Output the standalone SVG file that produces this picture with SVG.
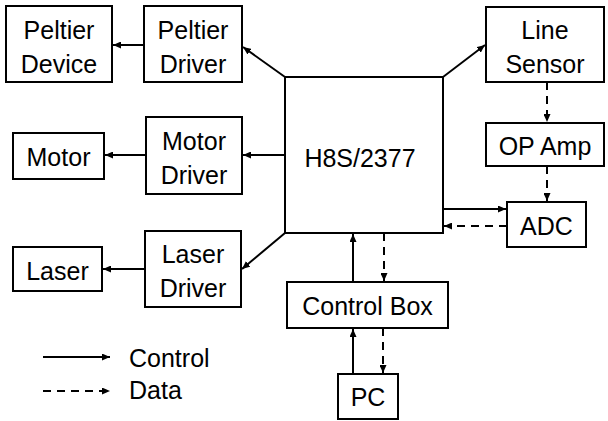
<svg xmlns="http://www.w3.org/2000/svg" width="608" height="421" viewBox="0 0 608 421">
<style>
.box{fill:#fff;stroke:#000;stroke-width:2}
text{font-family:"Liberation Sans",Arial,sans-serif;font-size:25px;fill:#000;text-anchor:middle}
.lg{text-anchor:start}
.c{fill:none;stroke:#000;stroke-width:2}
.d{stroke-dasharray:8,6}
</style>
<defs>
<marker id="ah" markerUnits="userSpaceOnUse" markerWidth="9" markerHeight="7" refX="8" refY="3.5" orient="auto">
<path d="M0,0 L8,3.5 L0,7 Z" fill="#000"/>
</marker>
</defs>
<rect width="608" height="421" fill="#fff"/>
<g id="connectors">
<line class="c" x1="144" y1="45" x2="113" y2="45" marker-end="url(#ah)"/>
<line class="c" x1="285" y1="77" x2="243" y2="47" marker-end="url(#ah)"/>
<line class="c" x1="285" y1="155" x2="243" y2="155" marker-end="url(#ah)"/>
<line class="c" x1="146" y1="155" x2="105" y2="155" marker-end="url(#ah)"/>
<line class="c" x1="285" y1="233" x2="242" y2="269" marker-end="url(#ah)"/>
<line class="c" x1="145" y1="269" x2="103" y2="269" marker-end="url(#ah)"/>
<line class="c" x1="443" y1="77" x2="485" y2="45" marker-end="url(#ah)"/>
<line class="c d" x1="547" y1="82" x2="547" y2="122" marker-end="url(#ah)"/>
<line class="c d" x1="547" y1="166" x2="547" y2="201" marker-end="url(#ah)"/>
<line class="c" x1="443" y1="209" x2="506" y2="209" marker-end="url(#ah)"/>
<line class="c d" x1="507" y1="226" x2="444" y2="226" marker-end="url(#ah)"/>
<line class="c" x1="353" y1="282" x2="353" y2="234" marker-end="url(#ah)"/>
<line class="c d" x1="384" y1="233" x2="384" y2="281" marker-end="url(#ah)"/>
<line class="c" x1="353" y1="374" x2="353" y2="329" marker-end="url(#ah)"/>
<line class="c d" x1="383" y1="328" x2="383" y2="373" marker-end="url(#ah)"/>
</g>
<g id="peltier-device"><rect class="box" x="6" y="6" width="106" height="76"/><text x="59" y="39">Peltier</text><text x="59" y="73">Device</text></g>
<g id="peltier-driver"><rect class="box" x="144" y="6" width="98" height="76"/><text x="193" y="39">Peltier</text><text x="193" y="73">Driver</text></g>
<g id="motor"><rect class="box" x="13" y="133" width="91" height="46"/><text x="58.5" y="165.5">Motor</text></g>
<g id="motor-driver"><rect class="box" x="146" y="117" width="96" height="77"/><text x="194" y="150">Motor</text><text x="194" y="184">Driver</text></g>
<g id="laser"><rect class="box" x="13" y="247" width="89" height="44"/><text x="57.5" y="279.5">Laser</text></g>
<g id="laser-driver"><rect class="box" x="145" y="231" width="96" height="76"/><text x="193" y="263">Laser</text><text x="193" y="297">Driver</text></g>
<g id="h8s"><rect class="box" x="285" y="77" width="158" height="156"/><text x="360" y="167">H8S/2377</text></g>
<g id="line-sensor"><rect class="box" x="486" y="7" width="118" height="75"/><text x="545" y="39">Line</text><text x="545" y="73">Sensor</text></g>
<g id="op-amp"><rect class="box" x="486" y="123" width="118" height="43"/><text x="545" y="155">OP Amp</text></g>
<g id="adc"><rect class="box" x="507" y="202" width="79" height="45"/><text x="546.5" y="235">ADC</text></g>
<g id="control-box"><rect class="box" x="287" y="282" width="161" height="46"/><text x="367.5" y="315">Control Box</text></g>
<g id="pc"><rect class="box" x="338" y="374" width="60" height="45"/><text x="368" y="406">PC</text></g>
<g id="legend">
<line class="c" x1="43" y1="357" x2="110" y2="357" marker-end="url(#ah)"/>
<text class="lg" x="129" y="367">Control</text>
<line class="c d" x1="43" y1="391" x2="110" y2="391" marker-end="url(#ah)"/>
<text class="lg" x="129" y="399">Data</text>
</g>
</svg>
